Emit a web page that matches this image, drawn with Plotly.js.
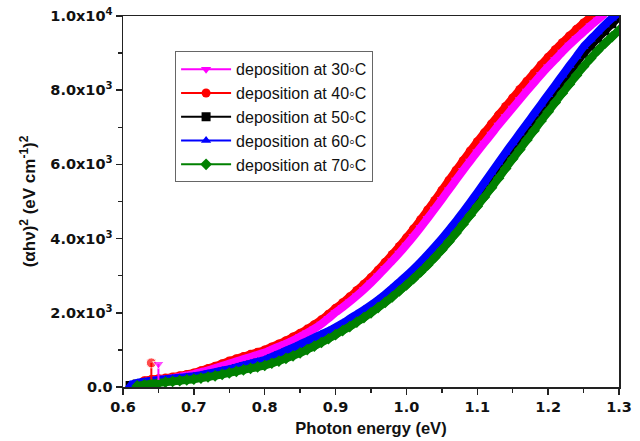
<!DOCTYPE html>
<html>
<head>
<meta charset="utf-8">
<script src="https://cdn.plot.ly/plotly-3.0.1.min.js"></script>
<style>html,body{margin:0;padding:0;background:#fff;}#chart{width:640px;height:441px;}</style>
</head>
<body>
<div id="chart"></div>
<script>
// Photon energy grid (eV)
var energy = [0.61,0.62,0.63,0.64,0.65,0.66,0.67,0.68,0.69,0.70,
  0.71,0.72,0.73,0.74,0.75,0.76,0.77,0.78,0.79,0.80,
  0.81,0.82,0.83,0.84,0.85,0.86,0.87,0.88,0.89,0.90,
  0.91,0.92,0.93,0.94,0.95,0.96,0.97,0.98,0.99,1.00,
  1.01,1.02,1.03,1.04,1.05,1.06,1.07,1.08,1.09,1.10,
  1.11,1.12,1.13,1.14,1.15,1.16,1.17,1.18,1.19,1.20,
  1.21,1.22,1.23,1.24,1.25,1.26,1.27,1.28,1.29,1.30];

// (alpha h nu)^2 values, one array per deposition temperature
var dep30 = [null,80,130,170,190,210,240,270,310,350,
  400,450,510,570,630,690,750,810,870,930,
  1010,1090,1170,1260,1360,1460,1570,1700,1850,2010,
  2150,2300,2460,2630,2810,3000,3200,3400,3610,3830,
  4060,4300,4550,4800,5060,5320,5580,5840,6090,6340,
  6580,6820,7060,7290,7520,7750,7980,8200,8420,8630,
  8830,9030,9220,9400,9570,9740,9900,10060,null,null];

var dep40 = [null,null,170,200,220,240,270,300,340,380,
  440,500,560,630,700,760,820,880,940,1000,
  1080,1160,1250,1350,1450,1560,1680,1810,1960,2120,
  2270,2430,2600,2770,2950,3150,3360,3570,3790,4020,
  4260,4510,4770,5030,5300,5570,5840,6100,6360,6610,
  6850,7090,7330,7560,7790,8020,8240,8460,8680,8890,
  9090,9280,9460,9640,9810,9980,10150,null,null,null];

var dep50 = [40,80,110,130,150,170,190,210,230,250,
  280,320,360,400,440,490,540,590,640,690,
  760,840,920,1000,1090,1170,1260,1350,1440,1540,
  1640,1750,1870,1990,2110,2250,2400,2560,2720,2890,
  3060,3240,3430,3630,3840,4060,4300,4550,4810,5070,
  5340,5610,5880,6150,6410,6670,6930,7190,7450,7710,
  7970,8230,8480,8740,8990,9200,9400,9600,9790,9970];

var dep60 = [60,110,140,170,190,210,230,250,270,290,
  320,360,400,440,480,530,580,630,680,730,
  810,890,980,1060,1150,1240,1330,1420,1510,1610,
  1720,1840,1960,2080,2210,2350,2500,2660,2830,3000,
  3180,3370,3570,3780,4000,4230,4470,4720,4980,5240,
  5510,5780,6050,6320,6580,6840,7100,7360,7620,7880,
  8140,8400,8660,8910,9170,9370,9570,9760,9940,10100];

var dep70 = [null,30,60,90,110,130,150,170,190,210,
  240,270,300,340,380,420,460,500,540,580,
  640,700,770,840,920,1010,1100,1200,1300,1410,
  1520,1630,1750,1870,2000,2140,2280,2430,2590,2750,
  2920,3100,3290,3490,3700,3920,4150,4390,4630,4870,
  5120,5370,5630,5890,6150,6400,6660,6910,7170,7420,
  7670,7920,8160,8400,8640,8860,9070,9260,9440,9610];

// isolated outlier points near the absorption edge
var spike30X = [0.65, 0.65], spike30Y = [190, 620];
var spike40X = [0.64, 0.64], spike40Y = [200, 650];

var seriesNames = ["deposition at 30\u25E6C","deposition at 40\u25E6C","deposition at 50\u25E6C","deposition at 60\u25E6C","deposition at 70\u25E6C"];

// axis ticks
var yTickVals = [0,2000,4000,6000,8000,10000];
var yTickText = ["0.0","2.0x10<sup>3</sup>","4.0x10<sup>3</sup>","6.0x10<sup>3</sup>","8.0x10<sup>3</sup>","1.0x10<sup>4</sup>"];
var xTickVals = [0.6,0.7,0.8,0.9,1.0,1.1,1.2,1.3];
var xTickText = ["0.6","0.7","0.8","0.9","1.0","1.1","1.2","1.3"];

var colors = ["#ff00ff","#ff0000","#000000","#0000ff","#008000"];
var symbols = ["triangle-down","circle","square","triangle-up","diamond"];
var ys = [dep30, dep40, dep50, dep60, dep70];
var drawOrder = [1,0,2,3,4];

var traces = [];
drawOrder.forEach(function(i){
  traces.push({x: energy, y: ys[i], type:'scatter', mode:'lines', showlegend:false,
    hoverinfo:'skip', line:{color:colors[i], width:8, shape:'spline', smoothing:0.6}});
  traces.push({x: energy, y: ys[i], type:'scatter', mode:'lines+markers', name: seriesNames[i],
    legendrank: i+1, line:{color:colors[i], width:2},
    marker:{color:colors[i], symbol:symbols[i], size:9, line:{width:0}}});
});
traces.push({x: spike40X, y: spike40Y, type:'scatter', mode:'lines+markers', showlegend:false,
  line:{color:colors[1], width:2}, marker:{color:colors[1], symbol:'circle', size:[0,10]}});
traces.push({x: spike30X, y: spike30Y, type:'scatter', mode:'lines+markers', showlegend:false,
  line:{color:colors[0], width:2}, marker:{color:colors[0], symbol:'triangle-down', size:[0,10]}});

var tickFont = {family:"DejaVu Sans, sans-serif", size:14.5, color:'#111', weight:'bold'};

var layout = {
  width:640, height:441,
  margin:{l:123, r:21, t:16, b:54},
  paper_bgcolor:'#fff', plot_bgcolor:'#fff',
  showlegend:true,
  legend:{x:0.105, y:0.905, xanchor:'left', yanchor:'top', bgcolor:'#fff',
    bordercolor:'#666', borderwidth:1, tracegroupgap:0, itemwidth:50,
    font:{family:"Liberation Sans, Arial, sans-serif", size:16, color:'#111'}},
  xaxis:{range:[0.6,1.3], tickmode:'array', tickvals:xTickVals, ticktext:xTickText,
    ticks:'outside', ticklen:6, tickwidth:1.5, tickcolor:'#222',
    minor:{ticks:'outside', ticklen:4, tickwidth:1.5, tickcolor:'#222', tickmode:'linear', tick0:0.6, dtick:0.05},
    showline:true, linecolor:'#222', linewidth:1.5, mirror:true, showgrid:false, zeroline:false,
    tickfont:tickFont,
    title:{text:"Photon energy (eV)", standoff:8, font:{family:"Liberation Sans, Arial, sans-serif", size:16.5, color:'#111', weight:'bold'}}},
  yaxis:{range:[0,10000], tickmode:'array', tickvals:yTickVals, ticktext:yTickText,
    ticks:'outside', ticklen:6, tickwidth:1.5, tickcolor:'#222',
    minor:{ticks:'outside', ticklen:4, tickwidth:1.5, tickcolor:'#222', tickmode:'linear', tick0:0, dtick:1000},
    showline:true, linecolor:'#222', linewidth:1.5, mirror:true, showgrid:false, zeroline:false,
    tickfont:tickFont,
    title:{text:"(\u03B1h\u03BD)<sup>2</sup> (eV cm<sup>-1</sup>)<sup>2</sup>", standoff:10,
      font:{family:"Liberation Sans, Arial, sans-serif", size:17, color:'#111', weight:'bold'}}}
};

Plotly.newPlot('chart', traces, layout, {displayModeBar:false, staticPlot:true});
</script>
</body>
</html>
